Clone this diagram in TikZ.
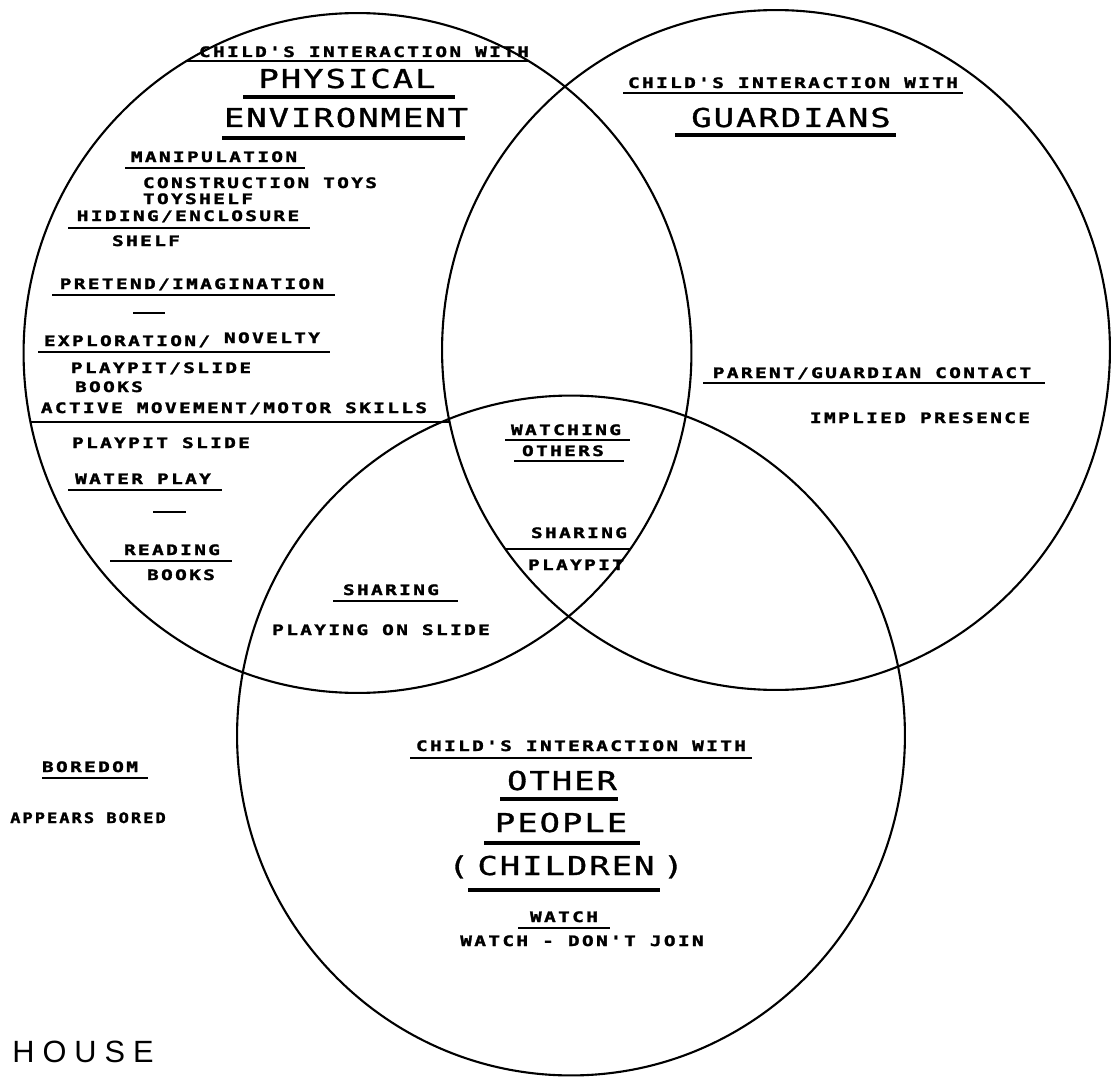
\documentclass[tikz,border=0pt]{standalone}
\usepackage{fontspec}
\setmainfont{Liberation Sans}
\newfontfamily\pltsmall[LetterSpace=12, FakeBold=1.5]{DejaVu Sans Mono}
\newfontfamily\pltbig[LetterSpace=6, FakeBold=1]{DejaVu Sans Mono}
\newfontfamily\housefont[LetterSpace=26]{Liberation Sans}
\newcommand\wideS[1]{\scalebox{1.35}[1]{#1}}
\newcommand\wideB[1]{\scalebox{1.3}[1]{#1}}

\begin{document}
\begin{tikzpicture}[x=0.02cm, y=-0.02cm,
  ring/.style={line width=1.2pt},
  ul/.style={line width=1.4pt},
  ulbig/.style={line width=1.8pt},
  lbl/.style={inner sep=0pt, outer sep=0pt, anchor=base,
    font=\pltsmall\bfseries\fontsize{8.2pt}{9pt}\selectfont},
  title/.style={inner sep=0pt, outer sep=0pt, anchor=base,
    font=\pltbig\fontsize{14.8pt}{17pt}\selectfont},
  place/.style={inner sep=0pt, outer sep=0pt, anchor=base,
    font=\housefont\fontsize{17.5pt}{20pt}\selectfont}]

\useasboundingbox (0,0) rectangle (1116,1078);
\fill[white] (0,0) rectangle (1116,1078);

% the three overlapping spheres of interaction
\draw[ring] (357.5,353) ellipse [x radius=6.68cm, y radius=6.8cm];
\draw[ring] (776,350) ellipse [x radius=6.68cm, y radius=6.8cm];
\draw[ring] (571,735.5) ellipse [x radius=6.68cm, y radius=6.8cm];

% chords cut off by the physical-environment circle
\begin{scope}
  \clip (357.5,353) ellipse [x radius=6.68cm, y radius=6.8cm];
  \draw[ul] (0,61) -- (720,61);
  \draw[ul] (0,422) -- (449,422);
  \begin{scope}
    \clip (776,350) ellipse [x radius=6.68cm, y radius=6.8cm];
    \draw[ul] (400,549) -- (720,549);
  \end{scope}
\end{scope}

% ---- physical environment ----
\node[lbl] (peHead) at (364,57) {\wideS{CHILD'S INTERACTION WITH}};
\node[title] (peOne) at (347,88) {\wideB{PHYSICAL}};
\draw[ulbig] (243,97) -- (455,97);
\node[title] (peTwo) at (346,127) {\wideB{ENVIRONMENT}};
\draw[ulbig] (222,138) -- (465,138);

\node[lbl] (manip) at (214,162) {\wideS{MANIPULATION}};
\draw[ul] (125,168) -- (305,168);
\node[lbl] (ctoys) at (260,188) {\wideS{CONSTRUCTION TOYS}};
\node[lbl] (tshelf) at (198,204) {\wideS{TOYSHELF}};
\node[lbl] (hiding) at (188,221) {\wideS{HIDING/ENCLOSURE}};
\draw[ul] (68,228) -- (310,228);
\node[lbl] (shelf) at (146,246) {\wideS{SHELF}};
\node[lbl] (pretend) at (192,289) {\wideS{PRETEND/IMAGINATION}};
\draw[ul] (52,295) -- (335,295);
\draw[ul] (133,313) -- (165,313);
\node[lbl] (explor) at (127,346) {\wideS{EXPLORATION/}};
\node[lbl] (novelty) at (272,343) {\wideS{NOVELTY}};
\draw[ul] (38,352) -- (330,352);
\node[lbl] (pslide) at (161,373) {\wideS{PLAYPIT/SLIDE}};
\node[lbl] (booksA) at (109,392) {\wideS{BOOKS}};
\node[lbl] (active) at (234,413) {\wideS{ACTIVE MOVEMENT/MOTOR SKILLS}};
\node[lbl] (pslideB) at (161,448) {\wideS{PLAYPIT SLIDE}};
\node[lbl] (water) at (143,484) {\wideS{WATER PLAY}};
\draw[ul] (68,490) -- (222,490);
\draw[ul] (153,512) -- (186,512);
\node[lbl] (reading) at (172,555) {\wideS{READING}};
\draw[ul] (110,561) -- (232,561);
\node[lbl] (booksB) at (181,580) {\wideS{BOOKS}};

% ---- physical environment and other people ----
\node[lbl] (shareA) at (391,595) {\wideS{SHARING}};
\draw[ul] (333,601) -- (458,601);
\node[lbl] (playing) at (381,635) {\wideS{PLAYING ON SLIDE}};

% ---- all three ----
\node[lbl] (watching) at (566,435) {\wideS{WATCHING}};
\draw[ul] (505,440) -- (630,440);
\node[lbl] (others) at (563,456) {\wideS{OTHERS}};
\draw[ul] (514,461) -- (624,461);
\node[lbl] (shareB) at (579,538) {\wideS{SHARING}};
\node[lbl] (playpit) at (576,570) {\wideS{PLAYPIT}};

% ---- guardians ----
\node[lbl] (gHead) at (793,88) {\wideS{CHILD'S INTERACTION WITH}};
\draw[ul] (623,93) -- (963,93);
\node[title] (guard) at (791,127) {\wideB{GUARDIANS}};
\draw[ulbig] (675,135) -- (896,135);
\node[lbl] (contact) at (872,378) {\wideS{PARENT/GUARDIAN CONTACT}};
\draw[ul] (703,383) -- (1045,383);
\node[lbl] (implied) at (920,423) {\wideS{IMPLIED PRESENCE}};

% ---- other people ----
\node[lbl] (oHead) at (581,751) {\wideS{CHILD'S INTERACTION WITH}};
\draw[ul] (410,758) -- (752,758);
\node[title] (other) at (562,790) {\wideB{OTHER}};
\draw[ulbig] (500,799) -- (618,799);
\node[title] (people) at (561,832) {\wideB{PEOPLE}};
\draw[ulbig] (484,843) -- (640,843);
\node[title] (children) at (566,875) {\wideB{(\kern-6pt\ CHILDREN\kern-6pt\ )}};
\draw[ulbig] (468,890) -- (660,890);
\node[lbl] (watch) at (564,922) {\wideS{WATCH}};
\draw[ul] (518,928) -- (610,928);
\node[lbl] (dontjoin) at (582,946) {\wideS{WATCH - DON'T JOIN}};

% ---- outside all circles ----
\node[lbl] (boredom) at (90,772) {\wideS{BOREDOM}};
\draw[ul] (42,778) -- (148,778);
\node[lbl] (bored) at (88,823) {\scalebox{1.18}[1]{APPEARS BORED}};
\node[place] (house) at (83,1062) {HOUSE};
\end{tikzpicture}
\end{document}
